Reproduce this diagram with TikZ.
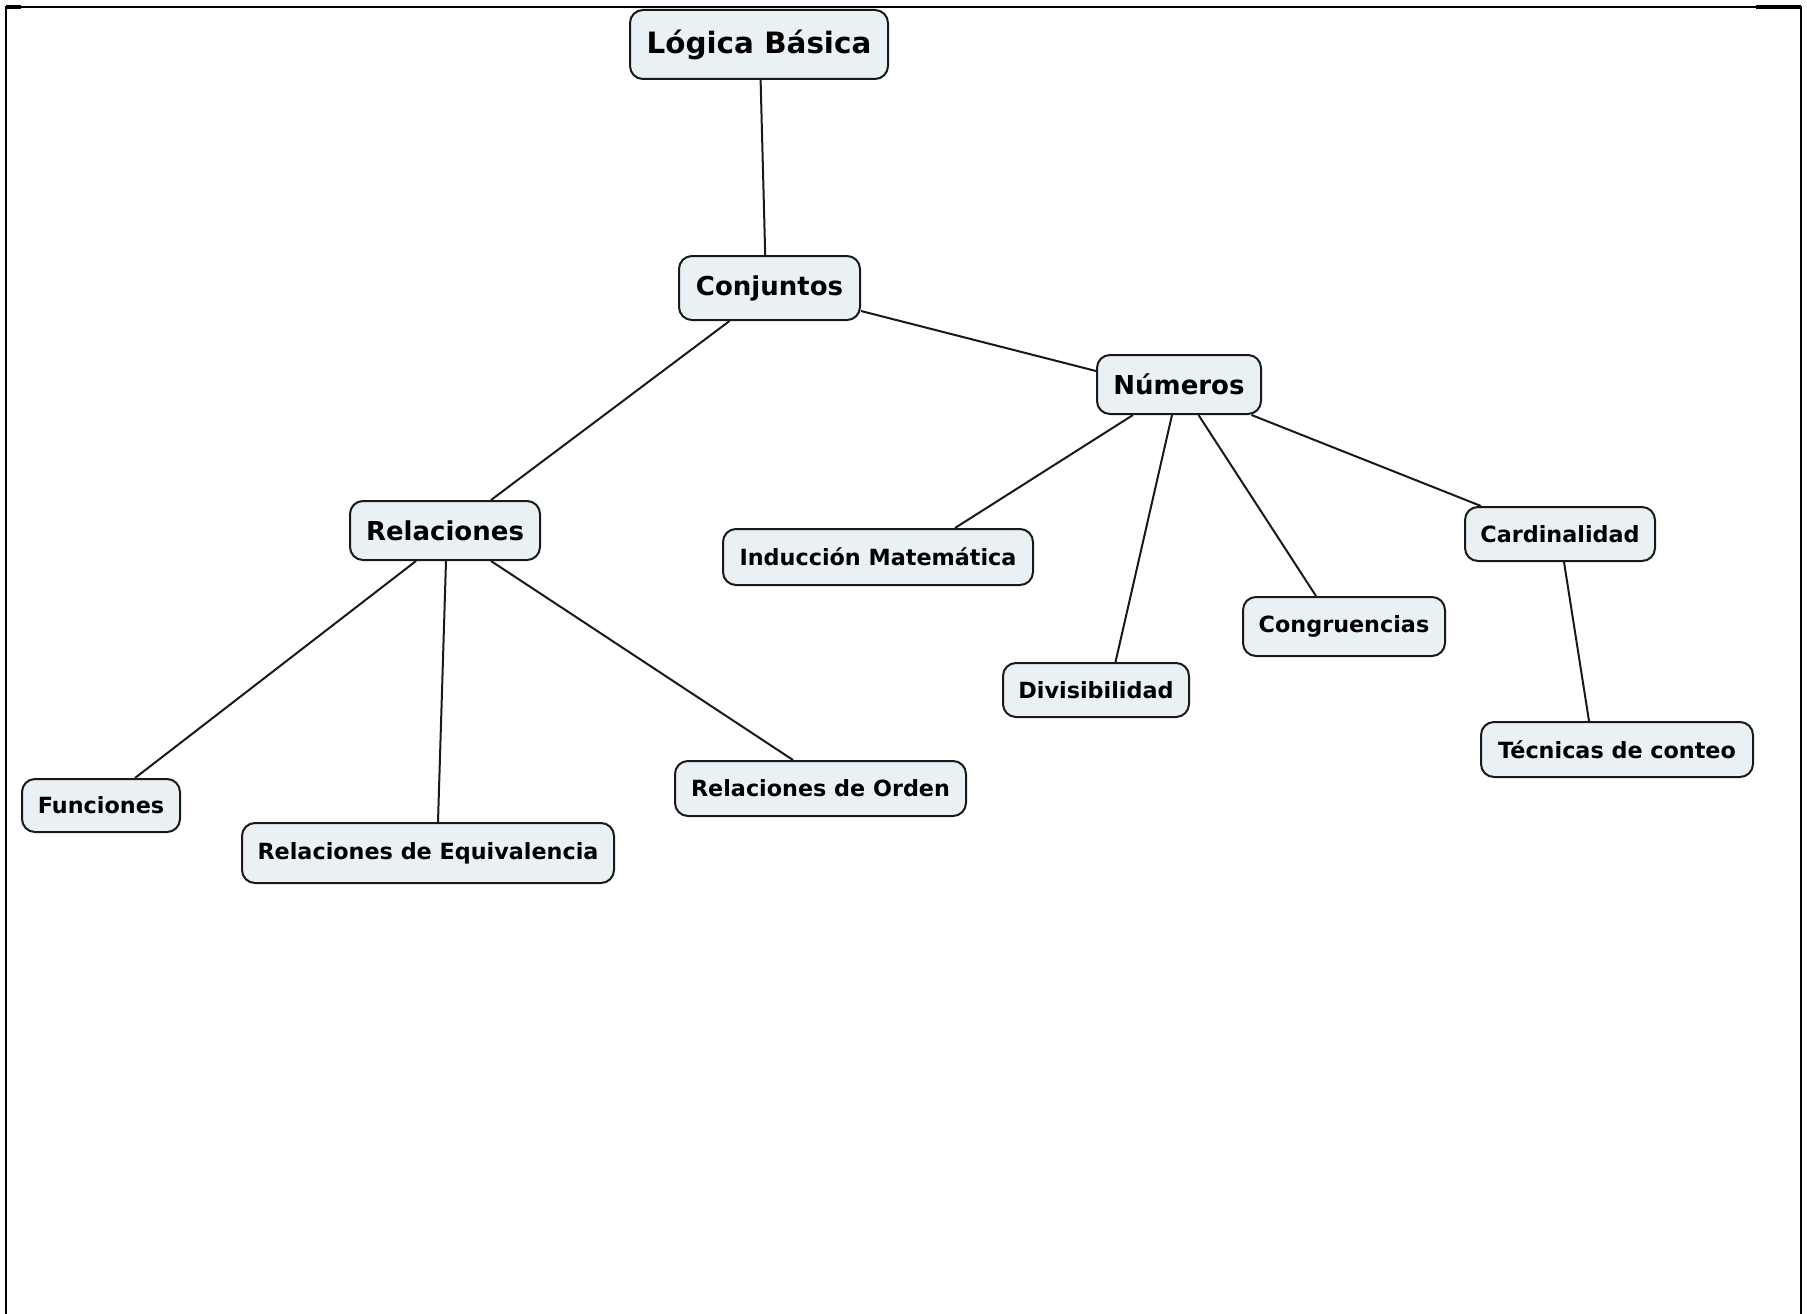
\documentclass[tikz,border=0pt]{standalone}
\usepackage{fontspec}
\setmainfont{DejaVu Sans}
\begin{document}
\begin{tikzpicture}[x=1pt,y=-1pt,
  box/.style={draw=black!90, line width=2pt, fill=boxfill, rounded corners=13pt,
    inner sep=0pt, align=center, font=\bfseries},
  big/.style={font=\bfseries\fontsize{29.4}{34}\selectfont},
  mid/.style={font=\bfseries\fontsize{26}{31}\selectfont},
  small/.style={font=\bfseries\fontsize{22.3}{27}\selectfont},
  link/.style={draw=black!90, line width=2pt},
  frame/.style={draw=black, line width=2.2pt}]
\definecolor{boxfill}{HTML}{EAF1F4}
\useasboundingbox (0,0) rectangle (1807,1314);
% frame
\coordinate (fbl) at (6,1314);
\coordinate (ftl) at (6,7);
\coordinate (ftr) at (1801,7);
\coordinate (fbr) at (1801,1314);
\draw[frame] (fbl) -- (ftl) -- (ftr) -- (fbr);
\draw[line width=3.5pt] (ftl) -- ++(15,0);
\draw[line width=3.5pt] (ftr) -- ++(-45,0);
% nodes
\node[box, big, minimum width=258pt, minimum height=69pt] (logica) at (759,44.5) {Lógica Básica};
\node[box, mid, minimum width=181pt, minimum height=64pt] (conj) at (769.5,288) {Conjuntos};
\node[box, mid, minimum width=164pt, minimum height=59pt] (num) at (1179,384.5) {Números};
\node[box, mid, minimum width=190pt, minimum height=59pt] (rel) at (445,530.5) {Relaciones};
\node[box, small, minimum width=310pt, minimum height=56pt] (ind) at (878,557) {Inducción Matemática};
\node[box, small, minimum width=190pt, minimum height=54pt] (card) at (1560,534) {Cardinalidad};
\node[box, small, minimum width=202pt, minimum height=59pt] (cong) at (1344,626.5) {Congruencias};
\node[box, small, minimum width=186pt, minimum height=54pt] (div) at (1096,690) {Divisibilidad};
\node[box, small, minimum width=272pt, minimum height=55pt] (tec) at (1617,749.5) {Técnicas de conteo};
\node[box, small, minimum width=158pt, minimum height=53pt] (fun) at (101,805.5) {Funciones};
\node[box, small, minimum width=372pt, minimum height=60pt] (req) at (428,853) {Relaciones de Equivalencia};
\node[box, small, minimum width=291pt, minimum height=55pt] (rord) at (820.5,788.5) {Relaciones de Orden};
% connectors
\draw[link] ([xshift=1.6pt]logica.south) -- ([xshift=-4.3pt]conj.north);
\draw[link] ([xshift=-40pt]conj.south) -- ([xshift=46pt]rel.north);
\draw[link] ([yshift=-23pt]conj.east) -- ([yshift=13.5pt]num.west);
\draw[link] ([xshift=-46pt]num.south) -- ([xshift=77pt]ind.north);
\draw[link] ([xshift=-7pt]num.south) -- ([xshift=19.5pt]div.north);
\draw[link] ([xshift=19.5pt]num.south) -- ([xshift=-28pt]cong.north);
\draw[link] ([xshift=72.5pt]num.south) -- ([xshift=-79pt]card.north);
\draw[link] ([xshift=4pt]card.south) -- ([xshift=-28pt]tec.north);
\draw[link] ([xshift=-29pt]rel.south) -- ([xshift=34pt]fun.north);
\draw[link] ([xshift=1pt]rel.south) -- ([xshift=10pt]req.north);
\draw[link] ([xshift=46pt]rel.south) -- ([xshift=-27.5pt]rord.north);
\end{tikzpicture}
\end{document}
